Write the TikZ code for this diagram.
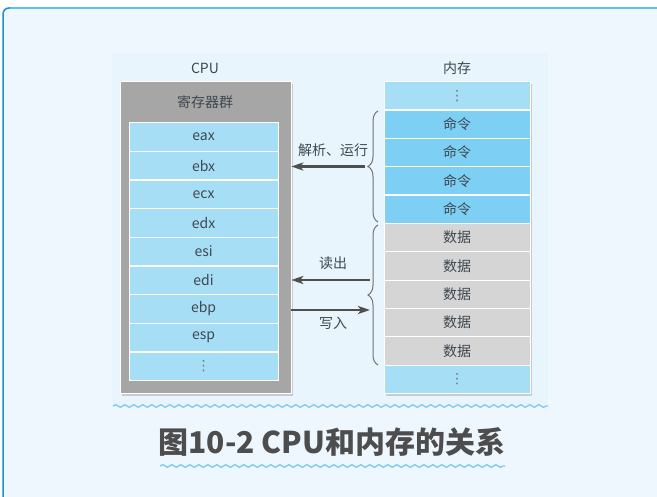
\documentclass[tikz,border=0pt]{standalone}
\usepackage{fontspec}
\setmainfont{Noto Sans CJK SC}
\newfontfamily\dvfont{DejaVu Sans}
\usetikzlibrary{decorations.pathmorphing,decorations.pathreplacing,arrows.meta}
\definecolor{bg}{HTML}{EEF6FE}
\definecolor{panel}{HTML}{E8F5FC}
\definecolor{frameL}{HTML}{1E8FCB}
\definecolor{frameT}{HTML}{5CC2EF}
\definecolor{cpugray}{HTML}{A7A6A6}
\definecolor{shadow}{HTML}{CBCBCB}
\definecolor{cellblue}{HTML}{A6DEF6}
\definecolor{cmdblue}{HTML}{7DD0F3}
\definecolor{datagray}{HTML}{D5D5D5}
\definecolor{txtc}{HTML}{3E4850}
\definecolor{arrowc}{HTML}{4F4F4F}
\definecolor{wave}{HTML}{86C9F4}
\definecolor{capc}{HTML}{4D4D4D}
\newcommand{\vd}{{\dvfont\fontsize{14}{14}\selectfont\color{txtc!75}⋮}}
\begin{document}
\begin{tikzpicture}[x=1pt,y=-1pt,
  txt/.style={text=txtc, font=\fontsize{14}{16}\selectfont},
  reg/.style={txt, draw=white, line width=1.2pt, fill=cellblue, minimum width=149pt, minimum height=28.67pt, inner sep=0pt, anchor=north west},
  mem/.style={txt, draw=white, line width=1.2pt, minimum width=146pt, minimum height=28.36pt, inner sep=0pt, anchor=north west},
  cmd/.style={mem, fill=cmdblue},
  dat/.style={mem, fill=datagray},
  dots/.style={mem, fill=cellblue},
  arr/.style={draw=arrowc, line width=2.3pt, -{Stealth[length=12pt,width=8pt,inset=3pt]}},
  brc/.style={draw=arrowc!80, line width=1pt, decorate, decoration={brace, amplitude=10pt}},
  wv/.style={draw=wave, line width=1.4pt, decorate, decoration={snake, amplitude=1.3pt, segment length=9pt}},
  lbl/.style={txt}
]
\useasboundingbox (0,0) rectangle (657,497);
\fill[white] (0,0) rectangle (657,497);
\fill[bg] (3,8) rectangle (657,497);
\fill[panel] (112,53) rectangle (548,405);
\draw[frameL, line width=1.5pt, rounded corners=6pt] (3,497) -- (3,8) -- (40,8);
\draw[frameT, line width=1.5pt] (10,8) -- (657,8);

% CPU
\node[lbl] (cpulbl) at (205,68) {CPU};
\fill[shadow] (122,84) rectangle (293,396);
\node[draw=white, line width=0.8pt, fill=cpugray, minimum width=171pt, minimum height=312pt, inner sep=0pt, anchor=north west] (cpu) at (119.5,81.5) {};
\node[lbl] (regs) at (205,102) {寄存器群};
\node[reg] (r1) at (128.5,122) {eax};
\node[reg] (r2) at (128.5,150.67) {ebx};
\node[reg] (r3) at (128.5,179.33) {ecx};
\node[reg] (r4) at (128.5,208) {edx};
\node[reg] (r5) at (128.5,236.67) {esi};
\node[reg] (r6) at (128.5,265.33) {edi};
\node[reg] (r7) at (128.5,294) {ebp};
\node[reg] (r8) at (128.5,322.67) {esp};
\node[reg] (r9) at (128.5,351.33) {\vd};

% Memory
\node[lbl] (memlbl) at (457,68) {内存};
\fill[shadow] (386,84) rectangle (532,396);
\node[dots] (m1) at (383.5,81) {\vd};
\node[cmd] (m2) at (383.5,109.36) {命令};
\node[cmd] (m3) at (383.5,137.73) {命令};
\node[cmd] (m4) at (383.5,166.09) {命令};
\node[cmd] (m5) at (383.5,194.45) {命令};
\node[dat] (m6) at (383.5,222.82) {数据};
\node[dat] (m7) at (383.5,251.18) {数据};
\node[dat] (m8) at (383.5,279.55) {数据};
\node[dat] (m9) at (383.5,307.91) {数据};
\node[dat] (m10) at (383.5,336.27) {数据};
\node[dots] (m11) at (383.5,364.64) {\vd};

% Braces
\draw[brc] (378,222) -- (378,111);
\draw[brc] (378,365) -- (378,225);
\coordinate (b1) at (365,166.5);
\coordinate (rd) at (370,280);
\coordinate (wr) at (370,310);

% Arrows
\draw[arr] (b1) -- (b1 -| cpu.east);
\node[lbl] (l1) at (333,150) {解析、运行};
\draw[arr] (rd) -- (rd -| cpu.east);
\node[lbl] (l2) at (333,263) {读出};
\draw[arr] (wr -| cpu.east) -- (wr);
\node[lbl] (l3) at (333,323) {写入};

% waves and caption
\draw[wv] (113,406) -- (548,406);
\node[text=capc, font=\fontsize{30}{32}\selectfont\bfseries] (cap) at (332,442) {图10-2 CPU和内存的关系};
\draw[wv] (160,466) -- (505,466);
\end{tikzpicture}
\end{document}
